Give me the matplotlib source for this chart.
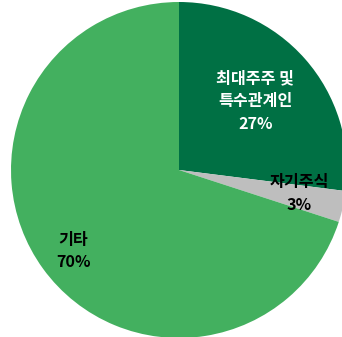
import matplotlib
matplotlib.use("Agg")
import matplotlib.pyplot as plt

plt.rcParams['font.family'] = ['Noto Sans CJK KR', 'DejaVu Sans']

# Shareholder composition
categories = ["최대주주 및\n특수관계인", "자기주식", "기타"]
shares = [27, 3, 70]
colors = ["#007044", "#BEBEBE", "#43B05F"]
text_colors = ["white", "black", "black"]

# Label anchor positions (pie radius = 1)
label_pos = [(0.455, 0.41), (0.715, -0.14), (-0.63, -0.482)]

fig = plt.figure(figsize=(3.42, 3.37), dpi=100)
ax = fig.add_axes([0, 0, 1, 1])

ax.pie(shares, colors=colors, startangle=90, counterclock=False,
       radius=1.0, wedgeprops=dict(linewidth=0))

for cat, val, (x, y), tc in zip(categories, shares, label_pos, text_colors):
    ax.text(x, y, f"{cat}\n{val}%", ha="center", va="center",
            color=tc, fontsize=11.6, fontweight="bold", linespacing=1.5)

ax.set_xlim(-179 / 168, 163 / 168)
ax.set_ylim(-167 / 168, 170 / 168)
ax.set_aspect("auto")
ax.axis("off")

fig.savefig("out.png", dpi=100)
